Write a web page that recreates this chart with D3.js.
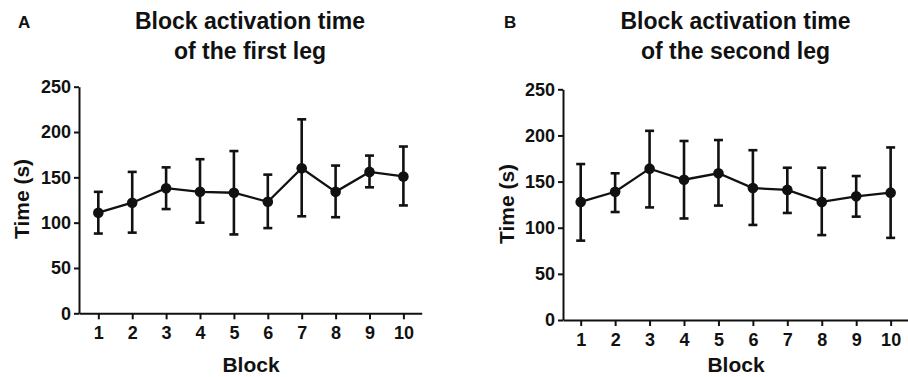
<!DOCTYPE html>
<html><head><meta charset="utf-8">
<script src="https://cdn.jsdelivr.net/npm/d3@7"></script>
<style>
body{margin:0;background:#fff;}
text{font-family:"Liberation Sans",Arial,sans-serif;font-weight:bold;fill:#111;}
</style></head>
<body><svg id="c" width="908" height="377"></svg>
<script>
const blocks = [1,2,3,4,5,6,7,8,9,10];
const yTicks = [0,50,100,150,200,250];
const firstLegMean  = [111,122,138,134,133,123,160,134,156,151];
const firstLegLower = [88,89,115,100,87,94,107,106,139,119];
const firstLegUpper = [134,156,161,170,179,153,214,163,174,184];
const secondLegMean  = [128,139,164,152,159,143,141,128,134,138];
const secondLegLower = [86,117,122,110,124,103,116,92,112,89];
const secondLegUpper = [169,159,205,194,195,184,165,165,156,187];
const titlesA = ["Block activation time","of the first leg"];
const titlesB = ["Block activation time","of the second leg"];

const svg = d3.select("#c");
const ink = "#111";

function panel(o){
  const g = svg.append("g");
  const x = d3.scaleLinear().domain(o.xDom).range(o.xRange);
  const y = d3.scaleLinear().domain([0,250]).range(o.yRange);
  const ax = o.xRange[0];
  const yg = g.append("g").attr("transform",`translate(${ax},0)`)
    .call(d3.axisLeft(y).tickValues(yTicks).tickSize(5).tickSizeOuter(0).tickPadding(3));
  const xg = g.append("g").attr("transform",`translate(0,${o.yRange[0]})`)
    .call(d3.axisBottom(x).tickValues(blocks).tickSize(6).tickSizeOuter(0).tickPadding(7));
  [yg,xg].forEach(a=>{
    a.selectAll("path,line").attr("stroke",ink).attr("stroke-width",2);
    a.selectAll("text").attr("fill",ink).style("font-size","18px").style("font-family",'"Liberation Sans",Arial,sans-serif').style("font-weight","bold");
  });
  const d = blocks.map((b,i)=>({b,m:o.mean[i],lo:o.lower[i],hi:o.upper[i]}));
  const eb = g.append("g").attr("stroke",ink).attr("stroke-width",2.6).attr("fill","none");
  eb.selectAll(".v").data(d).join("line").attr("x1",e=>x(e.b)).attr("x2",e=>x(e.b)).attr("y1",e=>y(e.lo)).attr("y2",e=>y(e.hi));
  eb.selectAll(".t").data(d).join("line").attr("x1",e=>x(e.b)-4.5).attr("x2",e=>x(e.b)+4.5).attr("y1",e=>y(e.hi)).attr("y2",e=>y(e.hi));
  eb.selectAll(".bt").data(d).join("line").attr("x1",e=>x(e.b)-4.5).attr("x2",e=>x(e.b)+4.5).attr("y1",e=>y(e.lo)).attr("y2",e=>y(e.lo));
  g.append("path").datum(d).attr("fill","none").attr("stroke",ink).attr("stroke-width",2.3)
    .attr("d",d3.line().x(e=>x(e.b)).y(e=>y(e.m)));
  g.selectAll("circle").data(d).join("circle").attr("cx",e=>x(e.b)).attr("cy",e=>y(e.m)).attr("r",5.3).attr("fill",ink);
  o.titles.forEach((t,i)=>g.append("text").attr("x",o.tx).attr("y",29+i*30).attr("text-anchor","middle").style("font-size","23px").text(t));
  g.append("text").attr("x",o.lx).attr("y",28).style("font-size","17px").text(o.letter);
  g.append("text").attr("x",o.bx).attr("y",o.by).attr("text-anchor","middle").style("font-size","21px").text("Block");
  g.append("text").attr("transform",`translate(${o.ttx},${o.tty}) rotate(-90)`).attr("text-anchor","middle").style("font-size","21px").text("Time (s)");
}

panel({xDom:[0.43,10.54],xRange:[79,421.7],yRange:[313.3,86.7],mean:firstLegMean,lower:firstLegLower,upper:firstLegUpper,
  titles:titlesA,tx:250,letter:"A",lx:18,bx:251,by:372,ttx:29,tty:199});
panel({xDom:[0.486,10.6],xRange:[563,911.3],yRange:[320,89.3],mean:secondLegMean,lower:secondLegLower,upper:secondLegUpper,
  titles:titlesB,tx:735.5,letter:"B",lx:504,bx:736,by:372,ttx:514,tty:204});
</script></body></html>
